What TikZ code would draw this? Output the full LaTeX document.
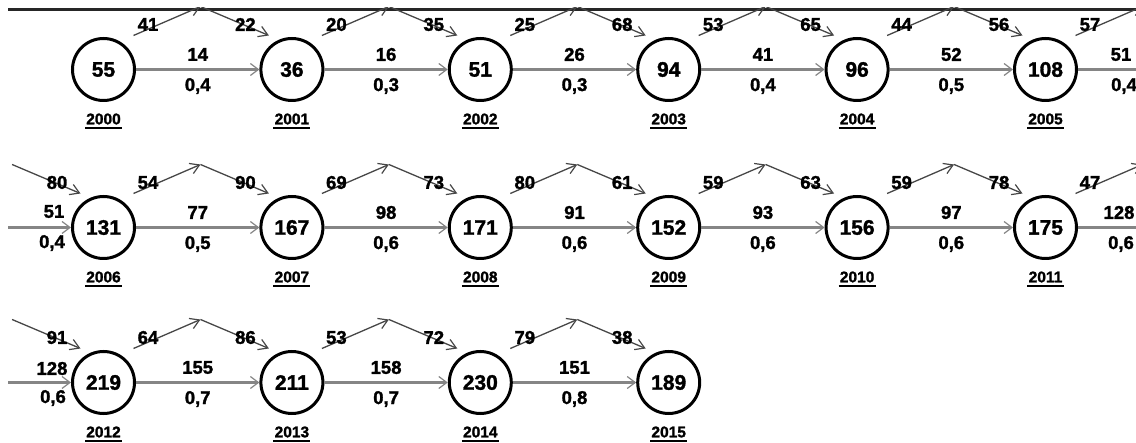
\documentclass[tikz,border=0pt]{standalone}
\usepackage{fontspec}
\setmainfont{Liberation Sans}[FakeBold=1.5]
\usetikzlibrary{arrows.meta,calc}
\definecolor{flowgray}{gray}{0.52}
\definecolor{ziggray}{gray}{0.28}
\tikzset{
  yr/.style={circle,draw=black,line width=3pt,minimum size=62pt,inner sep=0pt,
             font=\fontsize{21}{21}\bfseries\selectfont},
  flow/.style={draw=flowgray,line width=2.2pt,
               -{Straight Barb[length=8pt,width=12pt,line width=1.2pt]}},
  zig/.style={draw=ziggray,line width=1.3pt,
              -{Straight Barb[length=9pt,width=11pt,line width=1.2pt]}},
  flownohead/.style={draw=flowgray,line width=2.2pt},
  lab/.style={inner sep=0pt,font=\fontsize{18.5}{18.5}\bfseries\selectfont},
  yearlab/.style={inner sep=0pt,font=\fontsize{15.5}{15.5}\bfseries\selectfont},
  uline/.style={draw=black,line width=1.4pt},
  topline/.style={draw=black!85,line width=3pt}
}
\newcommand{\yearnode}[3]{% name, circle, year
  \node[yearlab] (#1) at ($(#2)+(0,49.5)$) {#3};
  \draw[uline] ([yshift=-3.5pt,xshift=-1pt]#1.base west) -- ([yshift=-3.5pt,xshift=1pt]#1.base east);
}
\newcommand{\edgepair}[7]{% prefix, from, to, up, down, value, ratio
  \coordinate (#1u) at ($(#2)+(30,-34)$);
  \coordinate (#1p) at ($(#2)+(97,-63)$);
  \coordinate (#1d) at ($(#3)+(-23,-34)$);
  \draw[flow] (#2) -- (#3);
  \draw[zig] (#1u) -- (#1p);
  \draw[zig] (#1p) -- (#1d);
  \node[lab] (#1lu) at ($(#2)+(44.5,-45)$) {#4};
  \node[lab] (#1ld) at ($(#3)+(-46.5,-45)$) {#5};
  \node[lab] (#1lv) at ($(#2)!0.5!(#3)+(0,-15)$) {#6};
  \node[lab] (#1lr) at ($(#2)!0.5!(#3)+(0,16.5)$) {#7};
}
\begin{document}
\begin{tikzpicture}[x=1pt,y=-1pt]
\useasboundingbox (0,0) rectangle (1136,443);
\begin{scope}
\clip (8,8) rectangle (1136,443);
% top border line
\coordinate (tl) at (8,9.5);
\coordinate (tr) at (1136,9.5);
\draw[topline] (tl) -- (tr);

% ---------- Row 1 ----------
\node[yr] (a0) at (103.5,69.5) {55};
\node[yr] (a1) at (291.9,69.5) {36};
\node[yr] (a2) at (480.3,69.5) {51};
\node[yr] (a3) at (668.7,69.5) {94};
\node[yr] (a4) at (857.1,69.5) {96};
\node[yr] (a5) at (1045.5,69.5) {108};
\yearnode{ya0}{a0}{2000}
\yearnode{ya1}{a1}{2001}
\yearnode{ya2}{a2}{2002}
\yearnode{ya3}{a3}{2003}
\yearnode{ya4}{a4}{2004}
\yearnode{ya5}{a5}{2005}
\edgepair{ea0}{a0}{a1}{41}{22}{14}{0,4}
\edgepair{ea1}{a1}{a2}{20}{35}{16}{0,3}
\edgepair{ea2}{a2}{a3}{25}{68}{26}{0,3}
\edgepair{ea3}{a3}{a4}{53}{65}{41}{0,4}
\edgepair{ea4}{a4}{a5}{44}{56}{52}{0,5}
% wrap out of row 1
\coordinate (ea5u) at ($(a5)+(30,-34)$);
\coordinate (ea5p) at ($(a5)+(97,-63)$);
\coordinate (ea5e) at (1136,69.5);
\draw[zig] (ea5u) -- (ea5p);
\draw[flownohead] (a5) -- (ea5e);
\node[lab] (ea5lu) at ($(a5)+(44.5,-45)$) {57};
\node[lab] (ea5lv) at (1121,54.5) {51};
\node[lab] (ea5lr) at (1124,86) {0,4};

% ---------- Row 2 ----------
\node[yr] (b0) at (103.5,227.5) {131};
\node[yr] (b1) at (291.9,227.5) {167};
\node[yr] (b2) at (480.3,227.5) {171};
\node[yr] (b3) at (668.7,227.5) {152};
\node[yr] (b4) at (857.1,227.5) {156};
\node[yr] (b5) at (1045.5,227.5) {175};
\yearnode{yb0}{b0}{2006}
\yearnode{yb1}{b1}{2007}
\yearnode{yb2}{b2}{2008}
\yearnode{yb3}{b3}{2009}
\yearnode{yb4}{b4}{2010}
\yearnode{yb5}{b5}{2011}
% wrap into row 2
\coordinate (bin) at (8,227.5);
\coordinate (binp) at ($(b0)+(-91.4,-63)$);
\coordinate (bind) at ($(b0)+(-23,-34)$);
\draw[flow] (bin) -- (b0);
\draw[zig] (binp) -- (bind);
\node[lab] (binld) at ($(b0)+(-46.5,-45)$) {80};
\node[lab] (binlv) at (54,211.5) {51};
\node[lab] (binlr) at (52,243) {0,4};
\edgepair{eb0}{b0}{b1}{54}{90}{77}{0,5}
\edgepair{eb1}{b1}{b2}{69}{73}{98}{0,6}
\edgepair{eb2}{b2}{b3}{80}{61}{91}{0,6}
\edgepair{eb3}{b3}{b4}{59}{63}{93}{0,6}
\edgepair{eb4}{b4}{b5}{59}{78}{97}{0,6}
% wrap out of row 2
\coordinate (eb5u) at ($(b5)+(30,-34)$);
\coordinate (eb5p) at ($(b5)+(97,-63)$);
\coordinate (eb5e) at (1136,227.5);
\draw[zig] (eb5u) -- (eb5p);
\draw[flownohead] (b5) -- (eb5e);
\node[lab] (eb5lu) at ($(b5)+(44.5,-45)$) {47};
\node[lab] (eb5lv) at (1119,212.5) {128};
\node[lab] (eb5lr) at (1121,244) {0,6};

% ---------- Row 3 ----------
\node[yr] (c0) at (103.5,382.5) {219};
\node[yr] (c1) at (291.9,382.5) {211};
\node[yr] (c2) at (480.3,382.5) {230};
\node[yr] (c3) at (668.7,382.5) {189};
\yearnode{yc0}{c0}{2012}
\yearnode{yc1}{c1}{2013}
\yearnode{yc2}{c2}{2014}
\yearnode{yc3}{c3}{2015}
% wrap into row 3
\coordinate (cin) at (8,382.5);
\coordinate (cinp) at ($(c0)+(-91.4,-63)$);
\coordinate (cind) at ($(c0)+(-23,-34)$);
\draw[flow] (cin) -- (c0);
\draw[zig] (cinp) -- (cind);
\node[lab] (cinld) at ($(c0)+(-46.5,-45)$) {91};
\node[lab] (cinlv) at (52,368.5) {128};
\node[lab] (cinlr) at (53,398) {0,6};
\edgepair{ec0}{c0}{c1}{64}{86}{155}{0,7}
\edgepair{ec1}{c1}{c2}{53}{72}{158}{0,7}
\edgepair{ec2}{c2}{c3}{79}{38}{151}{0,8}
\end{scope}
\end{tikzpicture}
\end{document}
